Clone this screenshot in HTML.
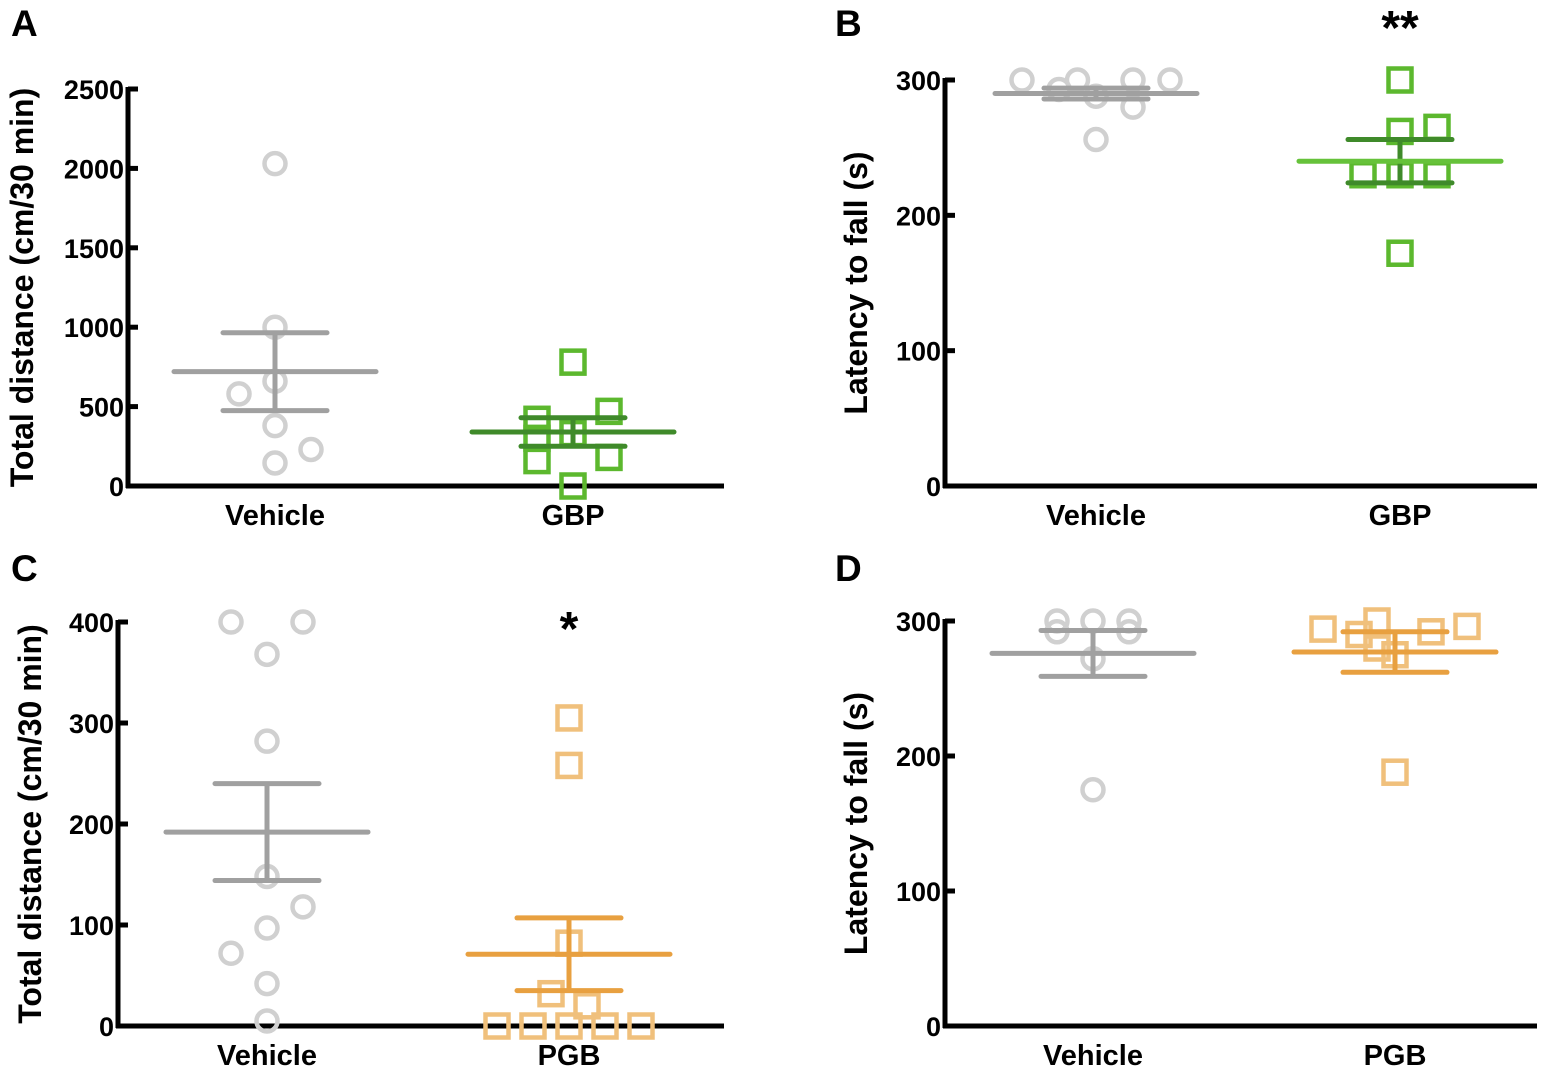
<!DOCTYPE html>
<html><head><meta charset="utf-8"><style>
body{margin:0;background:#fff;}
svg{display:block;font-family:"Liberation Sans",Arial,sans-serif;font-weight:bold;}
</style></head><body>
<svg id="fig" width="1561" height="1078" viewBox="0 0 1561 1078" xmlns="http://www.w3.org/2000/svg"></svg>
<script>
// Panel A data
const aCategories = ["Vehicle", "GBP"];
const aVehicle = [2030, 1000, 660, 580, 380, 230, 145];
const aVehicleOff = [0, 0, 0, -1, 0, 1, 0];
const aDrug = [780, 470, 420, 330, 300, 160, 180, 0];
const aDrugOff = [0, 1, -1, 0, -1, -1, 1, 0];
const aMean = [720, 340];
const aSem = [245, 90];
const aTicks = [0, 500, 1000, 1500, 2000, 2500];
// Panel B data
const bCategories = ["Vehicle", "GBP"];
const bVehicle = [300, 293, 300, 288, 300, 280, 300, 256];
const bVehicleOff = [-2, -1, -0.5, 0, 1, 1, 2, 0];
const bDrug = [300, 262, 265, 230, 230, 230, 172];
const bDrugOff = [0, 0, 1, -1, 0, 1, 0];
const bMean = [290, 240];
const bSem = [4, 16];
const bTicks = [0, 100, 200, 300];
// Panel C data
const cCategories = ["Vehicle", "PGB"];
const cVehicle = [400, 400, 368, 282, 148, 118, 97, 72, 42, 5];
const cVehicleOff = [-1, 1, 0, 0, 0, 1, 0, -1, 0, 0];
const cDrug = [305, 258, 82, 32, 20, 0, 0, 0, 0, 0];
const cDrugOff = [0, 0, 0, -0.5, 0.5, -2, -1, 0, 1, 2];
const cMean = [192, 71];
const cSem = [48, 36];
const cTicks = [0, 100, 200, 300, 400];
// Panel D data
const dCategories = ["Vehicle", "PGB"];
const dVehicle = [300, 300, 300, 292, 292, 272, 175];
const dVehicleOff = [-1, 0, 1, -1, 1, 0, 0];
const dDrug = [294, 300, 290, 292, 296, 280, 275, 188];
const dDrugOff = [-2, -0.5, -1, 1, 2, -0.5, 0, 0];
const dMean = [276, 277];
const dSem = [17, 15];
const dTicks = [0, 100, 200, 300];

const NS = "http://www.w3.org/2000/svg";
const svg = document.getElementById("fig");
function mk(tag, attrs, parent, text) {
  const e = document.createElementNS(NS, tag);
  for (const k in attrs) e.setAttribute(k, attrs[k]);
  if (text !== undefined) e.textContent = text;
  (parent || svg).appendChild(e);
  return e;
}

function panel(cfg) {
  const g = mk("g", {});
  
  
  const ymax = cfg.ticks[cfg.ticks.length - 1];
  const y = v => cfg.y0 - (v / ymax) * (cfg.y0 - cfg.yTop);
  const xc = [cfg.xVeh, cfg.xDrug];
  const L = mk("text", {x: cfg.letterX, y: cfg.letterY, "font-size": 37}, g, cfg.letter);
  
  
  const ya = mk("line", {x1: cfg.ax, y1: cfg.yTop - 2, x2: cfg.ax, y2: cfg.y0 + 2, stroke: "#000", "stroke-width": 5}, g);
  
  
  const xa = mk("line", {x1: cfg.ax - 2, y1: cfg.y0, x2: cfg.axEnd, y2: cfg.y0, stroke: "#000", "stroke-width": 5}, g);
  
  
  cfg.ticks.forEach(t => {
    const tk = mk("line", {x1: cfg.ax, y1: y(t), x2: cfg.ax + 10, y2: y(t), stroke: "#000", "stroke-width": 5}, g);
    
    
    const tl = mk("text", {x: cfg.ax - 4, y: y(t) + 10, "font-size": 27, "text-anchor": "end"}, g, String(t));
    
    
  });
  cfg.cats.forEach((c, i) => {
    const t = mk("text", {x: xc[i], y: cfg.y0 + 39, "font-size": 29, "text-anchor": "middle"}, g, c);
    
    
  });
  const cy = (cfg.y0 + cfg.yTop) / 2;
  const yt = mk("text", {x: 0, y: 0, "font-size": cfg.titleSize, "text-anchor": "middle", transform: `translate(${cfg.titleX},${cy}) rotate(-90)`}, g, cfg.title);
  
  
  cfg.veh.forEach((v, i) => {
    const c = mk("circle", {cx: xc[0] + cfg.vOff[i] * cfg.jit, cy: y(v), r: 10.5, fill: "none", stroke: "#d0d0d0", "stroke-width": 4.5}, g);
    
    
  });
  cfg.drug.forEach((v, i) => {
    const s = mk("rect", {x: xc[1] + cfg.dOff[i] * cfg.jit - 11.5, y: y(v) - 11.5, width: 23, height: 23, fill: "none", stroke: cfg.sq, "stroke-width": 4.5}, g);
    
    
  });
  [0, 1].forEach(i => {
    const colMean = i === 0 ? "#a0a0a0" : cfg.meanCol;
    const colSem = i === 0 ? "#a0a0a0" : cfg.semCol;
    const m = cfg.mean[i], s = cfg.sem[i];
    const v = mk("line", {x1: xc[i], y1: y(m + s), x2: xc[i], y2: y(m - s), stroke: colSem, "stroke-width": 5}, g);
    
    
    [m + s, m - s].forEach(val => {
      const cap = mk("line", {x1: xc[i] - 52, y1: y(val), x2: xc[i] + 52, y2: y(val), stroke: colSem, "stroke-width": 5, "stroke-linecap": "round"}, g);
      
      
    });
    const ml = mk("line", {x1: xc[i] - 101, y1: y(m), x2: xc[i] + 101, y2: y(m), stroke: colMean, "stroke-width": 5, "stroke-linecap": "round"}, g);
    
    
  });
  if (cfg.star) {
    const st = mk("text", {x: xc[1], y: cfg.starY, "font-size": 48, "text-anchor": "middle"}, g, cfg.star);
    
    
  }
}

panel({name: "panel-a", letter: "A", letterX: 11, letterY: 36, ax: 128, axEnd: 724, y0: 486, yTop: 89, xVeh: 275, xDrug: 573, jit: 36,
  cats: aCategories, veh: aVehicle, vOff: aVehicleOff, drug: aDrug, dOff: aDrugOff, mean: aMean, sem: aSem, ticks: aTicks,
  title: "Total distance (cm/30 min)", titleSize: 32, titleX: 33, sq: "#5cb82e", meanCol: "#3f8a2a", semCol: "#3f8a2a"});
panel({name: "panel-b", letter: "B", letterX: 835, letterY: 36, ax: 945, axEnd: 1537, y0: 486, yTop: 80, xVeh: 1096, xDrug: 1400, jit: 37,
  cats: bCategories, veh: bVehicle, vOff: bVehicleOff, drug: bDrug, dOff: bDrugOff, mean: bMean, sem: bSem, ticks: bTicks,
  title: "Latency to fall (s)", titleSize: 32, titleX: 867, sq: "#5cb82e", meanCol: "#66c23a", semCol: "#3f8a2a", star: "**", starY: 44});
panel({name: "panel-c", letter: "C", letterX: 11, letterY: 581, ax: 118, axEnd: 724, y0: 1026, yTop: 622, xVeh: 267, xDrug: 569, jit: 36,
  cats: cCategories, veh: cVehicle, vOff: cVehicleOff, drug: cDrug, dOff: cDrugOff, mean: cMean, sem: cSem, ticks: cTicks,
  title: "Total distance (cm/30 min)", titleSize: 32, titleX: 41, sq: "#f0c07c", meanCol: "#e8a040", semCol: "#e8a040", star: "*", starY: 645});
panel({name: "panel-d", letter: "D", letterX: 835, letterY: 581, ax: 945, axEnd: 1537, y0: 1026, yTop: 621, xVeh: 1093, xDrug: 1395, jit: 36,
  cats: dCategories, veh: dVehicle, vOff: dVehicleOff, drug: dDrug, dOff: dDrugOff, mean: dMean, sem: dSem, ticks: dTicks,
  title: "Latency to fall (s)", titleSize: 32, titleX: 867, sq: "#f0c07c", meanCol: "#e8a040", semCol: "#e8a040"});
</script>
</body></html>
